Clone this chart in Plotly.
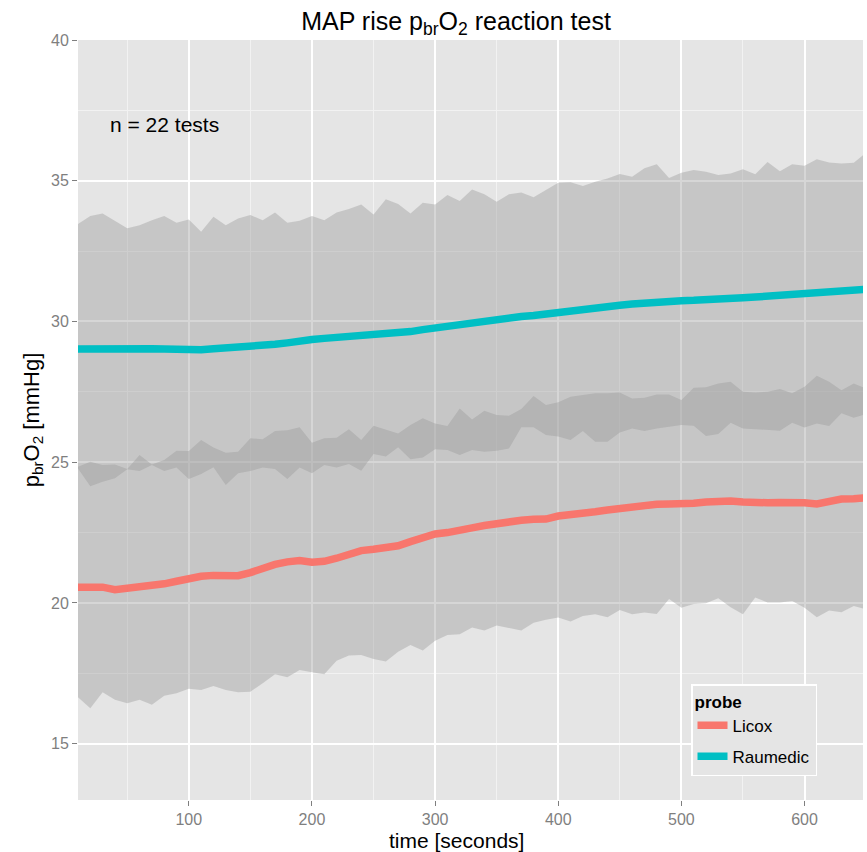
import plotly.graph_objects as go

time_s = list(range(10, 660, 10))

licox_mean = [20.56, 20.56, 20.56, 20.47, 20.52, 20.55, 20.60, 20.68, 20.77, 20.88,
              20.95, 20.98, 20.97, 20.97, 21.08, 21.26, 21.37, 21.46, 21.51, 21.45,
              21.48, 21.59, 21.75, 21.86, 21.91, 21.96, 22.03, 22.18, 22.33, 22.45,
              22.50, 22.56, 22.67, 22.75, 22.83, 22.89, 22.94, 22.97, 22.98, 23.09,
              23.12, 23.20, 23.24, 23.30, 23.36, 23.38, 23.44, 23.51, 23.52, 23.50,
              23.54, 23.59, 23.62, 23.62, 23.59, 23.56, 23.56, 23.57, 23.59, 23.56,
              23.52, 23.63, 23.69, 23.70, 23.74]
licox_upper = [24.84, 25.02, 24.90, 24.92, 24.76, 25.26, 24.92, 25.08, 25.41, 25.40,
               25.79, 25.52, 25.34, 25.37, 25.85, 25.82, 26.11, 26.14, 26.24, 25.69,
               25.85, 25.87, 26.17, 25.79, 26.30, 26.17, 26.02, 26.32, 26.56, 26.38,
               26.29, 26.91, 26.52, 26.83, 26.68, 26.65, 26.89, 27.35, 27.03, 27.13,
               27.33, 27.39, 27.45, 27.45, 27.48, 27.26, 27.29, 27.41, 27.41, 27.21,
               27.65, 27.66, 27.80, 27.86, 27.50, 27.48, 27.50, 27.60, 27.45, 27.68,
               28.07, 27.86, 27.56, 27.80, 27.62]
licox_lower = [16.65, 16.26, 16.83, 16.56, 16.44, 16.56, 16.38, 16.70, 16.79, 16.95,
               16.91, 17.05, 16.91, 16.83, 16.85, 17.15, 17.47, 17.36, 17.62, 17.54,
               17.47, 17.95, 18.13, 18.15, 18.01, 17.92, 18.27, 18.51, 18.31, 18.66,
               18.86, 18.89, 19.13, 19.02, 19.20, 19.10, 19.02, 19.30, 19.40, 19.48,
               19.34, 19.54, 19.60, 19.49, 19.75, 19.60, 19.66, 19.61, 20.14, 19.83,
               19.96, 19.99, 20.17, 19.85, 19.60, 20.19, 20.02, 20.02, 20.07, 19.83,
               19.49, 19.73, 19.67, 19.89, 19.78]

raumedic_mean = [29.02, 29.03, 29.04, 29.03, 29.03, 29.03, 29.03, 29.02, 29.00, 28.97,
                 29.00, 29.03, 29.05, 29.07, 29.09, 29.12, 29.19, 29.24, 29.32, 29.36,
                 29.40, 29.43, 29.46, 29.49, 29.52, 29.56, 29.60, 29.64, 29.71, 29.77,
                 29.84, 29.91, 29.97, 30.04, 30.12, 30.16, 30.18, 30.21, 30.27, 30.33,
                 30.39, 30.44, 30.49, 30.54, 30.58, 30.62, 30.66, 30.70, 30.73, 30.74,
                 30.75, 30.76, 30.78, 30.81, 30.84, 30.87, 30.90, 30.93, 30.96, 31.00,
                 31.04, 31.08, 31.12, 31.13, 31.14]
raumedic_upper = [33.46, 33.75, 33.84, 33.57, 33.31, 33.42, 33.60, 33.75, 33.51, 33.62,
                  33.19, 33.72, 33.42, 33.66, 33.78, 33.60, 33.87, 33.51, 33.58, 33.75,
                  33.60, 33.87, 34.00, 34.16, 33.80, 34.34, 34.17, 33.84, 34.22, 34.16,
                  34.49, 34.28, 34.69, 34.52, 34.25, 34.52, 34.58, 34.41, 34.67, 34.93,
                  34.95, 34.81, 34.96, 35.08, 35.24, 35.14, 35.44, 35.59, 35.10, 35.28,
                  35.38, 35.32, 35.20, 35.26, 35.41, 35.23, 35.67, 35.34, 35.59, 35.53,
                  35.76, 35.65, 35.61, 35.64, 35.99]
raumedic_lower = [24.78, 24.15, 24.31, 24.43, 24.75, 24.69, 24.90, 24.69, 24.81, 24.40,
                  24.58, 24.82, 24.19, 24.61, 24.69, 24.81, 24.76, 24.40, 24.81, 24.61,
                  24.90, 24.81, 24.94, 24.70, 25.29, 25.20, 25.53, 25.11, 25.17, 25.46,
                  25.43, 25.26, 25.43, 25.37, 25.41, 25.49, 26.24, 26.24, 25.97, 25.91,
                  25.79, 26.11, 25.73, 25.73, 26.06, 26.20, 26.11, 26.20, 26.26, 26.32,
                  26.30, 25.93, 26.00, 26.40, 26.20, 26.17, 26.14, 26.12, 26.40, 26.23,
                  26.38, 26.29, 26.74, 26.58, 26.71]

x_ticks = [100, 200, 300, 400, 500, 600]
y_ticks = [15, 20, 25, 30, 35, 40]

RIBBON = "rgba(153,153,153,0.4)"
LICOX = "#F8766D"
RAUMEDIC = "#00BFC4"
FONT = "Liberation Sans, Arial, sans-serif"

fig = go.Figure()

for lo, hi in [(licox_lower, licox_upper), (raumedic_lower, raumedic_upper)]:
    fig.add_trace(go.Scatter(
        x=time_s + time_s[::-1], y=hi + lo[::-1],
        fill="toself", fillcolor=RIBBON, line=dict(width=0),
        mode="lines", showlegend=False, hoverinfo="skip"))

fig.add_trace(go.Scatter(x=time_s, y=licox_mean, mode="lines", name="Licox",
                         legendgroup="a", line=dict(color=LICOX, width=7.5)))
fig.add_trace(go.Scatter(x=time_s, y=raumedic_mean, mode="lines", name="Raumedic",
                         legendgroup="b", line=dict(color=RAUMEDIC, width=7.5)))

fig.add_annotation(x=80, y=37, xref="x", yref="y", text="n = 22 tests",
                   showarrow=False, font=dict(family=FONT, size=21, color="black"))

# x-axis title
fig.add_annotation(x=(456 - 78) / 785, y=-40 / 760, xref="paper", yref="paper",
                   text="time [seconds]", showarrow=False,
                   xanchor="center", yanchor="middle",
                   font=dict(family=FONT, size=21, color="black"))

fig.update_layout(
    width=867, height=852,
    margin=dict(l=78, r=4, t=40, b=52),
    paper_bgcolor="white", plot_bgcolor="#E5E5E5",
    font=dict(family=FONT),
    title=dict(text="MAP rise p<sub>br</sub>O<sub>2</sub> reaction test",
               x=456 / 867, xref="container", xanchor="center",
               y=1 - 21 / 852, yref="container", yanchor="middle",
               font=dict(family=FONT, size=25, color="black")),
    legend=dict(x=(691 - 78) / 785, y=(800 - 684) / 760, xanchor="left", yanchor="top",
                bgcolor="#E5E5E5", bordercolor="white", borderwidth=1.5,
                title=dict(text="<b>probe</b>", font=dict(family=FONT, size=17, color="black")),
                font=dict(family=FONT, size=17, color="black"),
                tracegroupgap=6),
    xaxis=dict(range=[10, 647.5], tickvals=x_ticks, showgrid=True, gridcolor="white",
               gridwidth=1.6, zeroline=False, showline=False,
               ticks="outside", ticklen=5, tickcolor="#7F7F7F", tickwidth=1.2,
               tickfont=dict(family=FONT, size=16, color="#7F7F7F"),
               minor=dict(tickvals=[50, 150, 250, 350, 450, 550, 650], showgrid=True,
                          gridcolor="#F2F2F2", gridwidth=1, ticks="")),
    yaxis=dict(range=[13, 40], tickvals=y_ticks, showgrid=True, gridcolor="white",
               gridwidth=1.6, zeroline=False, showline=False,
               ticks="outside", ticklen=5, tickcolor="#7F7F7F", tickwidth=1.2,
               tickfont=dict(family=FONT, size=16, color="#7F7F7F"),
               minor=dict(tickvals=[17.5, 22.5, 27.5, 32.5, 37.5], showgrid=True,
                          gridcolor="#F2F2F2", gridwidth=1, ticks=""),
               title=dict(text="p<sub>br</sub>O<sub>2</sub> [mmHg]", standoff=5,
                          font=dict(family=FONT, size=22, color="black"))),
)

fig.write_html("out.html")
